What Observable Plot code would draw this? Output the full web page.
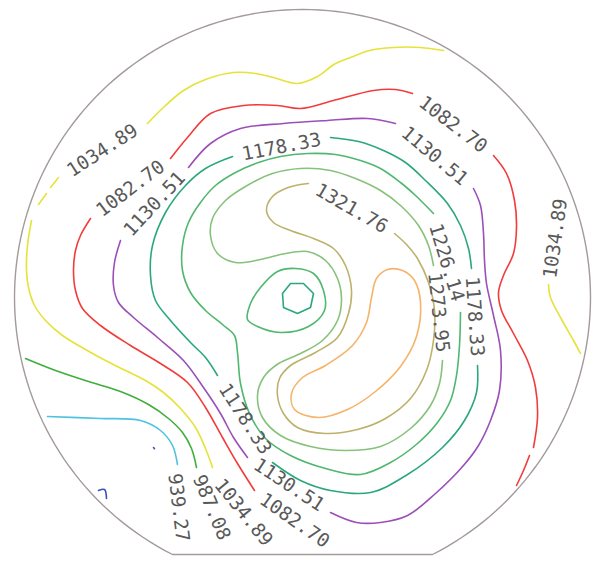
<!DOCTYPE html>
<html>
<head>
<meta charset="utf-8">
<script src="https://cdn.jsdelivr.net/npm/d3@7"></script>
<script src="https://cdn.jsdelivr.net/npm/@observablehq/plot@0.6"></script>
<style>
  html, body { margin: 0; padding: 0; background: #fff; }
  #chart svg { display: block; }
</style>
</head>
<body>
<div id="chart"></div>
<script>
// Contour levels and their line colours
const levels = [891.46, 939.27, 987.08, 1034.89, 1082.70, 1130.51, 1178.33, 1226.14, 1273.95, 1321.76, 1369.57];
const levelColors = ["#3a4fc4", "#4ec2e0", "#3fae3a", "#e6e23a", "#f23c3c", "#9b50b8", "#2ba879", "#4fb86e", "#86c27a", "#bdb26c", "#f4b46a"];

// Wafer geometry (mm, centre at 0,0)
const waferRadius = 144;
const flatY = -128.5;

// Traced contour paths, wafer coordinates in mm
const c891a = [[-102,-96.5],[-99,-96],[-98,-100.5]];
const c891b = [[-74.5,-75],[-74,-75.6]];
const c939 = [[-127.5,-59.5],[-101,-60.5],[-81,-61.5],[-71,-66.5],[-65,-74],[-62.5,-83.5]];
const c987 = [[-138.5,-30.5],[-123.5,-36.5],[-107,-42],[-91,-47],[-77,-53.5],[-67,-60.5],[-60,-67.5],[-55.5,-75.5],[-53,-85]];
const c1035top = [[-77.5,87],[-68.5,96],[-59.5,103.5],[-48.5,109],[-34.5,112.5],[-23.5,112],[-14.5,110],[-2.5,107],[7.5,110.5],[16.5,117],[24,120],[33.5,123.5],[45.5,125],[59,125],[70.5,123.5]];
const c1035dashA = [[-122,60],[-126,55]];
const c1035dashB = [[-128,52],[-132,46.5]];
const c1035left = [[-135.5,38.5],[-137.5,26],[-138,13.5],[-137,5],[-134,-4],[-128.5,-11.5],[-120,-19],[-108.5,-26],[-98.5,-31.5],[-88.5,-36.5],[-78.5,-41.5],[-69.5,-47.5],[-61,-55.5],[-53.5,-65],[-48.5,-75.5],[-45,-85]];
const c1035right = [[123,6.5],[124,0],[129,-10],[135.5,-21.5],[139,-28]];
const c1083top = [[-66,69.5],[-57.5,80],[-46,92],[-29.5,96],[-12.5,96],[-1,94.5],[15.5,98.5],[35.5,103.5],[46.5,104],[55,102]];
const c1083right = [[95.5,71],[102,62],[106,48.5],[107,35],[105.5,22],[100.5,11],[98,2.5],[99.5,-6.5],[105.5,-18],[112.5,-31.5],[116.5,-45],[117.5,-60],[115.5,-75]];
const c1083rightB = [[113.5,-79],[110.5,-86.5],[107,-94]];
const c1083left = [[-106,39.5],[-111,31],[-113.5,23.5],[-114.5,13.5],[-113.5,3.5],[-110,-5.5],[-101,-14],[-86,-24],[-71,-33],[-57.5,-42.5],[-48.5,-55],[-40,-70],[-32.5,-83],[-24,-96.5]];
const c1131top = [[-57,65],[-46,77],[-31,84.5],[-9.5,87],[12.5,88.5],[32.5,89.5],[46.5,87]];
const c1131left = [[-91,28.5],[-94,17.5],[-94.5,6],[-92,-2.5],[-84.5,-10],[-72.5,-20],[-59.5,-31.5],[-49.5,-45],[-41,-58],[-34.5,-70],[-27.5,-80]];
const c1131right = [[85.5,54.5],[89,46],[90.5,32],[91,18.5],[92,7],[95.5,-9],[99,-26.5],[98.5,-46.5],[94,-61.5],[88,-74],[80.5,-84],[66.5,-98],[52.5,-109],[39,-112.5],[27,-112.5],[14,-107.5]];
const c1178left = [[-35,70.5],[-48.5,64.5],[-58.5,56],[-68.5,42.5],[-75,26],[-76,11],[-73.5,-1.5],[-66,-11.5],[-56,-22.5],[-48.5,-30],[-42.5,-39]];
const c1178right = [[14,80],[28,78],[40.5,73.5],[51.5,67.5],[61.5,58.5],[72.5,47],[79,36],[83,24.5],[84.5,14.5]];
const c1178bottom = [[87.5,-34],[87,-47.5],[81,-61.5],[70,-75],[52.5,-88.5],[34,-97.5],[14,-96.5],[-1,-91.5],[-15,-82.5]];
const c1178core = [[-6,7],[0.5,7],[5.5,2],[4,-5],[-2.5,-8],[-9.5,-5],[-10,2]];
const c1226 = [[65.5,42],[56.5,51],[49,57.5],[39,64.5],[29,68.5],[16.5,71.5],[2.5,72],[-11,70.5],[-22,67.5],[-33.5,62.5],[-43.5,56],[-51,47.5],[-57,37.5],[-60,26],[-60,13.5],[-56,2.5],[-48.5,-6.5],[-40,-13.5],[-34,-19],[-32.5,-27.5],[-31,-43],[-26.5,-58],[-18.5,-70.5],[-6,-79],[11.5,-85.5],[29,-88.5],[44,-82.5],[57.5,-73],[67.5,-62.5],[74,-51.5],[77,-39],[78.5,-24],[79,-7.5]];
const c1226core = [[-12.5,13],[-3.5,14.5],[5.5,12],[10.5,3.5],[11,-6.5],[3,-14.5],[-11,-17.5],[-22.5,-14.5],[-27.5,-11],[-26,-3],[-21,5]];
const c1274 = [[65.5,16],[63,26],[58,36],[49,46],[39,53.5],[26.5,59.5],[14,63.5],[-1,64.5],[-15,62],[-28.5,55.5],[-38.5,48.5],[-45,39.5],[-46,31],[-42.5,22],[-33.5,17.5],[-21,19],[-8.5,22],[2.5,23],[11.5,18.5],[17.5,9.5],[19.5,-0.5],[17.5,-11.5],[10,-21.5],[-1,-28],[-12,-33],[-19.5,-40],[-22.5,-49],[-20,-60],[-11,-69],[4,-74.5],[21.5,-76.5],[39,-74.5],[54,-65.5],[64,-54],[68.5,-43],[70,-31.5]];
const c1322 = [[3,57],[-1,56.5],[-8.5,54.5],[-15,50.5],[-18,43.5],[-14.5,37.5],[-6,33.5],[5.5,29.5],[15.5,24.5],[21.5,16],[24.5,3.5],[23,-8],[17.5,-20],[6.5,-27.5],[-6,-34],[-11.5,-40.5],[-12.5,-49],[-9.5,-58],[-2.5,-65],[11.5,-68],[27.5,-66],[41.5,-60.5],[54,-50.5],[62,-36.5],[65.5,-21.5],[66,-6.5],[63,7.5],[57.5,19.5],[52,26.5],[46,32]];
const c1370 = [[42.5,14],[37,9.5],[34.5,0],[32,-12.5],[25,-24],[11.5,-34],[0,-40],[-5.5,-48],[-4,-56],[8,-60],[22.5,-56],[36.5,-47],[49,-34.5],[57,-19.5],[59,-2.5],[56,8.5],[50,13.5]];

// Contour labels: level, position (mm) and text angle (degrees)
const labelLevel = [1034.89, 1082.70, 1130.51, 1178.33, 1082.70, 1130.51, 1321.76, 1226.14, 1273.95, 1178.33, 1034.89, 1178.33, 1130.51, 1082.70, 1034.89, 987.08, 939.27];
const labelX = [-100, -86, -74, -10.5, 75.25, 66, 24.5, 72, 68, 86, 126.5, -28.75, -6.75, -4, -29.5, -45.5, -62];
const labelY = [73.5, 54.5, 46.75, 75.25, 86.5, 70.75, 44.5, 17.5, -7.5, -9.5, 29.5, -60.75, -93.75, -111.5, -107.5, -105, -105];
const labelAngle = [-33, -37, -47, -11, 37.5, 40, 30, 73, 84, 86, -82, 57, 33.5, 35, 51, 67, 83];

// Build tables for Plot
const openSegs = [
  [891.46, c891a], [891.46, c891b], [939.27, c939], [987.08, c987],
  [1034.89, c1035top], [1034.89, c1035dashA], [1034.89, c1035dashB], [1034.89, c1035left], [1034.89, c1035right],
  [1082.70, c1083top], [1082.70, c1083right], [1082.70, c1083rightB], [1082.70, c1083left],
  [1130.51, c1131top], [1130.51, c1131left], [1130.51, c1131right],
  [1178.33, c1178left], [1178.33, c1178right], [1178.33, c1178bottom],
  [1226.14, c1226], [1273.95, c1274], [1321.76, c1322]
];
const smoothLoops = [[1226.14, c1226core], [1369.57, c1370]];
const polyLoops = [[1178.33, c1178core]];

function rows(list) {
  const out = [];
  list.forEach(([level, pts], i) => pts.forEach(([x, y]) => out.push({seg: i, level, x, y})));
  return out;
}
const openRows = rows(openSegs);
const loopRows = rows(smoothLoops);
const polyRows = rows(polyLoops);

// Wafer outline: circle with a flat at the bottom
const half = Math.sqrt(waferRadius * waferRadius - flatY * flatY);
const a0 = Math.atan2(flatY, half);
const outline = d3.range(0, 181).map(i => {
  const a = a0 + (Math.PI - 2 * a0) * i / 180;
  return {x: waferRadius * Math.cos(a), y: waferRadius * Math.sin(a)};
});

const labels = labelLevel.map((v, i) => ({text: v.toFixed(2), x: labelX[i], y: labelY[i], angle: labelAngle[i]}));

const chart = Plot.plot({
  width: 596,
  height: 562,
  margin: 0,
  x: {domain: [-151, 147], axis: null},
  y: {domain: [-132.5, 148.5], axis: null},
  color: {type: "ordinal", domain: levels, range: levelColors},
  marks: [
    Plot.line(outline, {x: "x", y: "y", curve: "linear-closed", stroke: "#a39a9a", strokeWidth: 1.4}),
    Plot.line(openRows, {x: "x", y: "y", z: "seg", stroke: "level", curve: "catmull-rom", strokeWidth: 1.6}),
    Plot.line(loopRows, {x: "x", y: "y", z: "seg", stroke: "level", curve: "catmull-rom-closed", strokeWidth: 1.6}),
    Plot.line(polyRows, {x: "x", y: "y", z: "seg", stroke: "level", curve: "linear-closed", strokeWidth: 1.6}),
    Plot.text(labels, {x: "x", y: "y", text: "text", rotate: "angle", fontSize: 19, fontFamily: "DejaVu Sans Mono", fill: "#595959"})
  ]
});
document.getElementById("chart").appendChild(chart);
</script>
</body>
</html>
